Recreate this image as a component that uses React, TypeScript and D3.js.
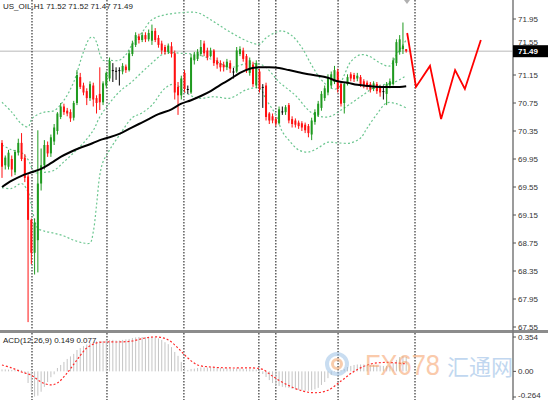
import * as d3 from 'd3'

const W = 548
const H = 400
const AXIS_X = 513
const PRICE_BOTTOM = 330

const title = 'US_OIL,H1  71.52 71.52 71.47 71.49'
const macdTitle = 'ACD(12,26,9) 0.149 0.077'
const priceTicks = [71.95, 71.55, 71.15, 70.75, 70.35, 69.95, 69.55, 69.15, 68.75, 68.35, 67.95, 67.55]
const lastPrice = 71.49
const macdTicks = [0.354, 0, -0.264]
const macdTickLabels = ['0.354', '0.00', '-0.264']

// H1 candles, oldest first
const opens = [
  70.18, 69.86, 69.84, 69.95, 69.76, 70.04, 70.18, 69.97, 69.70, 69.08,
  68.61, 68.79, 69.60, 69.86, 70.15, 70.03, 70.20, 70.35, 70.55, 70.70,
  70.64, 70.62, 70.54, 70.75, 71.12, 71.00, 70.92, 70.82, 71.00, 70.82,
  70.88, 70.76, 71.00, 71.10, 71.22, 71.21, 71.22, 71.20, 71.27, 71.22,
  71.45, 71.58, 71.70, 71.65, 71.72, 71.66, 71.64, 71.78, 71.68, 71.60,
  71.55, 71.48, 71.56, 71.46, 70.98, 70.86, 71.18, 70.95, 70.90, 71.36,
  71.38, 71.45, 71.60, 71.50, 71.42, 71.50, 71.36, 71.32, 71.30, 71.26,
  71.32, 71.20, 71.20, 71.45, 71.50, 71.42, 71.18, 71.30, 71.00, 71.20,
  70.98, 71.00, 70.60, 70.56, 70.52, 70.46, 70.63, 70.62, 70.72, 70.52,
  70.50, 70.47, 70.46, 70.44, 70.42, 70.30, 70.48, 70.58, 70.68, 70.82,
  70.90, 71.00, 71.05, 71.20, 71.02, 70.75, 71.02, 71.16, 71.15, 71.10,
  71.12, 71.06, 71.04, 71.02, 70.95, 71.02, 70.98, 70.92, 70.88, 71.00,
  71.02, 71.32, 71.48, 71.52, 71.52,
]
const highs = [
  70.22, 70.00, 70.08, 70.00, 70.08, 70.24, 70.32, 70.02, 69.75, 69.10,
  69.10, 70.36, 70.10, 70.22, 70.20, 70.30, 70.45, 70.62, 70.75, 70.74,
  70.68, 70.66, 70.78, 71.22, 71.18, 71.04, 70.96, 71.06, 71.04, 70.86,
  71.26, 71.06, 71.20, 71.40, 71.32, 71.26, 71.26, 71.32, 71.30, 71.50,
  71.64, 71.76, 71.74, 71.76, 71.76, 71.80, 71.87, 71.82, 71.72, 71.64,
  71.58, 71.60, 71.62, 71.50, 71.05, 71.14, 71.22, 71.00, 71.45, 71.48,
  71.52, 71.65, 71.64, 71.54, 71.54, 71.52, 71.40, 71.36, 71.34, 71.38,
  71.36, 71.25, 71.55, 71.56, 71.54, 71.45, 71.40, 71.34, 71.36, 71.24,
  71.02, 71.04, 70.62, 70.60, 70.55, 70.70, 70.70, 70.72, 70.75, 70.56,
  70.53, 70.50, 70.49, 70.47, 70.45, 70.54, 70.66, 70.78, 70.92, 71.00,
  71.16, 71.20, 71.28, 71.24, 71.06, 71.05, 71.16, 71.19, 71.18, 71.18,
  71.15, 71.09, 71.07, 71.05, 71.06, 71.05, 71.00, 71.00, 71.05, 71.10,
  71.40, 71.66, 71.72, 71.90, 71.52,
]
const lows = [
  69.68, 69.80, 69.80, 69.70, 69.72, 70.00, 69.92, 69.62, 67.62, 68.45,
  68.30, 68.33, 69.50, 69.80, 69.98, 69.98, 70.15, 70.30, 70.52, 70.58,
  70.56, 70.48, 70.50, 70.72, 70.95, 70.86, 70.72, 70.78, 70.70, 70.60,
  70.65, 70.72, 70.96, 71.06, 71.05, 71.08, 71.00, 71.16, 71.18, 71.20,
  71.42, 71.55, 71.60, 71.62, 71.62, 71.63, 71.58, 71.62, 71.54, 71.45,
  71.44, 71.45, 71.40, 70.80, 70.58, 70.80, 70.90, 70.88, 70.88, 71.30,
  71.35, 71.42, 71.42, 71.36, 71.40, 71.28, 71.24, 71.20, 71.20, 71.22,
  71.18, 71.10, 71.18, 71.42, 71.34, 71.18, 71.14, 70.98, 70.96, 70.90,
  70.68, 70.50, 70.45, 70.46, 70.42, 70.44, 70.58, 70.58, 70.46, 70.40,
  70.40, 70.38, 70.35, 70.32, 70.26, 70.22, 70.44, 70.55, 70.64, 70.78,
  70.86, 70.96, 71.02, 70.90, 70.70, 70.60, 71.00, 71.06, 71.05, 71.06,
  70.98, 70.96, 70.94, 70.90, 70.92, 70.88, 70.84, 70.80, 70.72, 70.96,
  71.00, 71.28, 71.44, 71.45, 71.47,
]
const closes = [
  69.84, 69.97, 70.04, 69.80, 70.05, 70.18, 69.95, 69.68, 69.08, 68.61,
  69.04, 69.60, 69.86, 70.15, 70.03, 70.26, 70.40, 70.60, 70.70, 70.62,
  70.60, 70.53, 70.75, 71.15, 70.98, 70.90, 70.82, 71.02, 70.80, 70.75,
  70.76, 71.03, 71.18, 71.35, 71.22, 71.21, 71.22, 71.28, 71.22, 71.46,
  71.60, 71.72, 71.65, 71.72, 71.66, 71.75, 71.78, 71.65, 71.58, 71.50,
  71.48, 71.57, 71.45, 70.90, 70.86, 71.10, 70.95, 70.95, 71.40, 71.44,
  71.48, 71.55, 71.46, 71.40, 71.50, 71.32, 71.30, 71.26, 71.26, 71.34,
  71.24, 71.20, 71.50, 71.52, 71.38, 71.22, 71.36, 71.02, 71.32, 70.95,
  70.98, 70.55, 70.50, 70.50, 70.46, 70.66, 70.63, 70.69, 70.50, 70.45,
  70.44, 70.42, 70.40, 70.36, 70.32, 70.50, 70.62, 70.74, 70.88, 70.96,
  71.12, 71.16, 71.22, 70.95, 70.74, 71.02, 71.12, 71.10, 71.09, 71.14,
  71.02, 71.00, 70.98, 70.94, 71.03, 70.92, 70.90, 70.92, 71.02, 71.06,
  71.36, 71.62, 71.66, 71.57, 71.49,
]

// Bollinger bands and moving average: [bar, price]
const bandUpper: [number, number][] = [
  [0, 70.76], [3, 70.62], [6, 70.45], [8, 70.41], [9, 70.51], [10, 70.56], [13, 70.62],
  [16, 70.64], [19, 70.79], [22, 71.05], [25, 71.48], [27, 71.68], [28, 71.69], [29, 71.62],
  [30, 71.45], [31, 71.36], [33, 71.36], [36, 71.36], [38, 71.44], [40, 71.59], [43, 71.76],
  [46, 71.94], [50, 72.01], [55, 72.04], [60, 72.04], [64, 71.94], [68, 71.82], [72, 71.71],
  [76, 71.62], [79, 71.59], [81, 71.68], [84, 71.76], [86, 71.78], [89, 71.71], [92, 71.54],
  [95, 71.29], [98, 71.08], [101, 70.96], [103, 70.96], [105, 71.15], [107, 71.34],
  [110, 71.44], [113, 71.41], [116, 71.32], [119, 71.28], [121, 71.44], [123, 71.58], [124, 71.65],
]
const bandMiddle: [number, number][] = [
  [0, 70.15], [3, 70.08], [6, 70.04], [8, 69.94], [10, 69.76], [13, 69.76], [16, 69.79],
  [19, 69.91], [22, 70.04], [25, 70.18], [28, 70.36], [30, 70.55], [33, 70.75], [36, 70.91],
  [40, 71.06], [45, 71.28], [50, 71.46], [55, 71.46], [60, 71.44], [65, 71.36], [70, 71.26],
  [75, 71.31], [80, 71.29], [83, 71.16], [85, 71.05], [90, 70.86], [95, 70.61], [100, 70.55],
  [105, 70.68], [110, 70.84], [115, 70.99], [120, 71.04], [124, 71.14],
]
const bandLower: [number, number][] = [
  [0, 69.54], [3, 69.53], [6, 69.60], [8, 69.48], [9, 69.29], [10, 69.08], [11, 68.96],
  [13, 68.92], [16, 68.89], [19, 68.85], [22, 68.79], [25, 68.75], [27, 68.75], [28, 68.91],
  [29, 69.29], [30, 69.72], [31, 69.91], [33, 70.08], [36, 70.29], [40, 70.54], [43, 70.61],
  [46, 70.72], [50, 70.96], [53, 71.02], [56, 70.91], [60, 70.82], [65, 70.84], [70, 70.82],
  [75, 70.94], [79, 70.96], [81, 70.80], [84, 70.58], [86, 70.34], [88, 70.22], [91, 70.08],
  [94, 70.05], [97, 70.11], [100, 70.19], [103, 70.18], [107, 70.18], [110, 70.25],
  [112, 70.39], [115, 70.59], [118, 70.75], [121, 70.74], [124, 70.68],
]
const movingAvg: [number, number][] = [
  [0, 69.55], [3, 69.64], [6, 69.71], [9, 69.76], [12, 69.81], [15, 69.89], [18, 69.98],
  [21, 70.05], [24, 70.11], [27, 70.16], [30, 70.22], [33, 70.26], [36, 70.31], [39, 70.38],
  [42, 70.45], [45, 70.52], [48, 70.59], [52, 70.66], [55, 70.74], [58, 70.79], [61, 70.85],
  [64, 70.92], [67, 71.01], [70, 71.09], [73, 71.18], [76, 71.24], [79, 71.26], [82, 71.26],
  [85, 71.25], [88, 71.22], [91, 71.19], [94, 71.16], [97, 71.14], [100, 71.11], [103, 71.06],
  [106, 71.04], [109, 71.01], [113, 70.99], [116, 70.98], [119, 70.98], [122, 70.98], [124, 70.99],
]

// hand-drawn forecast zigzag
const forecast: [number, number][] = [
  [124.3, 71.75], [127, 70.98], [131.3, 71.28], [134.7, 70.52], [139, 71.22], [142, 70.95], [146.9, 71.65],
]

// day separators, in bar units
const separators = [9.2, 32.2, 55.8, 78.8, 84.0, 103.1, 126.7]

// MACD main (histogram), one per bar
const macdMain = [
  0.02, 0.02, 0.018, 0.015, 0.015, 0.018, 0.012, -0.02, -0.12, -0.21,
  -0.26, -0.25, -0.21, -0.16, -0.11, -0.06, -0.03, 0.035, 0.066, 0.097,
  0.128, 0.154, 0.18, 0.22, 0.24, 0.26, 0.277, 0.293, 0.30, 0.31,
  0.313, 0.313, 0.324, 0.324, 0.324, 0.318, 0.318, 0.324, 0.33, 0.334,
  0.344, 0.35, 0.354, 0.354, 0.354, 0.354, 0.354, 0.35, 0.34, 0.324,
  0.30, 0.28, 0.25, 0.20, 0.16, 0.097, 0.045, 0.015, 0.025, 0.028,
  0.035, 0.04, 0.04, 0.04, 0.04, 0.036, 0.036, 0.035, 0.03, 0.03,
  0.026, 0.025, 0.03, 0.03, 0.026, 0.022, 0.022, 0.02, 0.018, -0.006,
  -0.027, -0.058, -0.09, -0.12, -0.14, -0.15, -0.16, -0.165, -0.17, -0.18,
  -0.185, -0.19, -0.195, -0.20, -0.20, -0.195, -0.185, -0.17, -0.14, -0.11,
  -0.07, -0.037, -0.006, 0.004, 0.015, 0.025, 0.045, 0.056, 0.066, 0.071,
  0.071, 0.071, 0.066, 0.066, 0.066, 0.06, 0.06, 0.056, 0.056, 0.06,
  0.087, 0.118, 0.148, 0.16, 0.149,
]
const macdSignal: [number, number][] = [
  [0, 0.066], [3, 0.035], [6, -0.006], [9, -0.04], [12, -0.11], [15, -0.14], [17, -0.12],
  [20, -0.016], [23, 0.118], [26, 0.24], [29, 0.293], [32, 0.303], [36, 0.303], [40, 0.313],
  [44, 0.344], [48, 0.354], [51, 0.324], [54, 0.24], [57, 0.138], [60, 0.066], [64, 0.045],
  [70, 0.035], [77, 0.035], [80, 0.02], [83, -0.05], [87, -0.13], [92, -0.2], [96, -0.22],
  [100, -0.195], [104, -0.1], [108, 0.0], [113, 0.075], [118, 0.092], [124, 0.077],
]

const GREEN = '#1f9a1f'
const RED = '#ff1010'
const BAND = '#6cc690'
const FONT = '"Liberation Sans", Arial, sans-serif'

export default function App() {
  const x = d3.scaleLinear().domain([0, 124]).range([2, 406.2])
  const y = d3.scaleLinear().domain([67.55, 71.95]).range([327, 19])
  const ym = d3.scaleLinear().domain([-0.264, 0.354]).range([397, 337])

  const priceLine = d3.line<[number, number]>()
    .x(d => x(d[0]))
    .y(d => y(d[1]))
    .curve(d3.curveCatmullRom.alpha(0.5))
  const zigzag = d3.line<[number, number]>().x(d => x(d[0])).y(d => y(d[1]))
  const signalLine = d3.line<[number, number]>()
    .x(d => x(d[0]))
    .y(d => ym(d[1]))
    .curve(d3.curveCatmullRom.alpha(0.5))

  const yLast = y(lastPrice)
  const boxTop = yLast - 6

  return (
    <svg width={W} height={H} style={{ position: 'absolute', left: 0, top: 0, background: '#fff' }}
      fontFamily={FONT}>
      <defs>
        <clipPath id="pricePlot"><rect x={0} y={0} width={AXIS_X} height={PRICE_BOTTOM} /></clipPath>
        <clipPath id="macdPlot"><rect x={0} y={333} width={AXIS_X} height={67} /></clipPath>
      </defs>

      {/* current price line */}
      <line x1={0} x2={AXIS_X} y1={yLast} y2={yLast} stroke="#d0d0d0" strokeWidth={1.5} />

      {/* day separators */}
      {separators.map((s, i) => (
        <line key={i} x1={x(s)} x2={x(s)} y1={0} y2={H} stroke="#444" strokeWidth={1.3}
          strokeDasharray="1.5 1.5" />
      ))}

      <g clipPath="url(#pricePlot)">
        {[bandUpper, bandMiddle, bandLower].map((b, i) => (
          <path key={i} d={priceLine(b) || ''} fill="none" stroke={BAND} strokeWidth={1.2}
            strokeDasharray="2 2.2" />
        ))}

        {closes.map((c, i) => {
          const o = opens[i]
          const color = c > o ? GREEN : c < o ? RED : '#000'
          const cx = x(i)
          const top = y(Math.max(o, c))
          const bot = y(Math.min(o, c))
          return (
            <g key={i}>
              <line x1={cx} x2={cx} y1={y(highs[i])} y2={y(lows[i])} stroke={color} strokeWidth={1} />
              <rect x={cx - 1} y={top} width={2} height={Math.max(1, bot - top)} fill={color} />
            </g>
          )
        })}

        <path d={priceLine(movingAvg) || ''} fill="none" stroke="#000" strokeWidth={2} />
        <path d={zigzag(forecast) || ''} fill="none" stroke="#ff0000" strokeWidth={1.8} />
      </g>

      {/* chart shift marker */}
      <path d="M404,0 L410,0 L407,4 Z" fill="#b0b0b0" />

      {/* MACD */}
      <g clipPath="url(#macdPlot)">
        {macdMain.map((v, i) => (
          <line key={i} x1={x(i)} x2={x(i)} y1={ym(0)} y2={ym(v)} stroke="#c4c4c4" strokeWidth={1} />
        ))}
        <path d={signalLine(macdSignal) || ''} fill="none" stroke="#ff2a2a" strokeWidth={1.2}
          strokeDasharray="2 2" />
      </g>

      {/* watermark */}
      <g opacity={0.55}>
        <circle cx={337} cy={364} r={10} fill="none" stroke="#9ec3e6" strokeWidth={4} />
        <circle cx={337} cy={364} r={4.5} fill="none" stroke="#f4a46a" strokeWidth={3} />
        <text x={365} y={375} fontSize={30} fill="#f6a068" textLength={75}
          lengthAdjust="spacingAndGlyphs" fontFamily="'Liberation Sans Narrow', 'Liberation Sans', sans-serif">FX678</text>
        <text x={447} y={375} fontSize={22} fill="#8fb8e4" fontFamily="'Noto Sans CJK SC', sans-serif">汇通网</text>
      </g>

      {/* panel separator */}
      <rect x={0} y={330} width={W} height={3} fill="#8c8c8c" />

      {/* right axis */}
      <line x1={AXIS_X} x2={AXIS_X} y1={0} y2={H} stroke="#7a7a7a" strokeWidth={1.5} />
      {priceTicks.map(t => {
        // the label hidden behind the last-price box is nudged up to sit on top of it
        const ty = Math.abs(y(t) - yLast) < 9 ? Math.min(y(t) + 3, boxTop - 0.5) : y(t) + 3
        return (
          <g key={t}>
            <line x1={AXIS_X} x2={AXIS_X + 3} y1={y(t)} y2={y(t)} stroke="#555" />
            <text x={518} y={ty} fontSize={8} fill="#333">{t.toFixed(2)}</text>
          </g>
        )
      })}
      <rect x={AXIS_X} y={boxTop} width={W - AXIS_X} height={12} fill="#000" />
      <text x={518} y={yLast + 3} fontSize={8} fontWeight="bold" fill="#fff">{lastPrice.toFixed(2)}</text>

      {macdTicks.map((t, i) => (
        <g key={t}>
          <line x1={AXIS_X} x2={AXIS_X + 3} y1={ym(t)} y2={ym(t)} stroke="#555" />
          <text x={518} y={Math.min(ym(t) + 3, 397.5)} fontSize={8} fill="#333">{macdTickLabels[i]}</text>
        </g>
      ))}

      {/* titles */}
      <text x={3} y={9} fontSize={8} fill="#222">{title}</text>
      <text x={3} y={343} fontSize={8} fill="#222">{macdTitle}</text>
    </svg>
  )
}
